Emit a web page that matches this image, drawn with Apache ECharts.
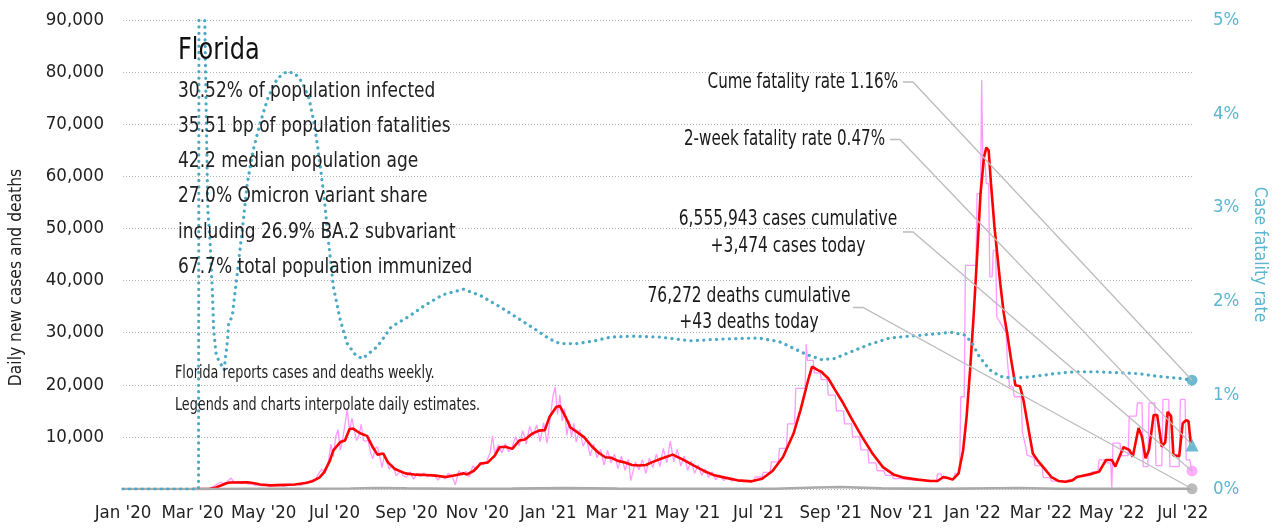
<!DOCTYPE html>
<html><head><meta charset="utf-8">
<script src="https://cdn.jsdelivr.net/npm/echarts@6/dist/echarts.min.js"></script>
<style>html,body{margin:0;padding:0;background:#fff}#c{width:1286px;height:529px}</style>
</head><body><div id="c"></div>
<script>
const FONT = '"Liberation Sans Narrow","DejaVu Sans Condensed","Roboto Condensed",sans-serif';

const xTickDates = ['2020-01-01','2020-03-01','2020-05-01','2020-07-01','2020-09-01','2020-11-01','2021-01-01','2021-03-01','2021-05-01','2021-07-01','2021-09-01','2021-11-01','2022-01-01','2022-03-01','2022-05-01','2022-07-01'];
const xTickLabels = ["Jan '20","Mar '20","May '20","Jul '20","Sep '20","Nov '20","Jan '21","Mar '21","May '21","Jul '21","Sep '21","Nov '21","Jan '22","Mar '22","May '22","Jul '22"];
const xStart = '2020-01-01', xEnd = '2022-07-09';

// 7-day average of new cases
const avgCases = [['2020-03-01',0],['2020-03-15',0],['2020-03-21',300],['2020-03-30',1100],['2020-04-02',1250],['2020-04-17',1280],['2020-04-23',1100],['2020-04-28',850],['2020-05-07',700],['2020-05-19',800],['2020-05-28',850],['2020-06-06',1150],['2020-06-12',1500],['2020-06-18',2200],['2020-06-22',3200],['2020-06-27',5400],['2020-06-30',7400],['2020-07-06',9000],['2020-07-10',9300],['2020-07-14',11500],['2020-07-17',11600],['2020-07-23',10700],['2020-07-29',10200],['2020-08-03',8000],['2020-08-07',6600],['2020-08-12',6800],['2020-08-16',5100],['2020-08-22',3840],['2020-08-31',3000],['2020-09-09',2750],['2020-09-18',2700],['2020-09-26',2560],['2020-10-05',2300],['2020-10-14',2700],['2020-10-20',3000],['2020-10-23',2800],['2020-10-29',3500],['2020-11-04',4900],['2020-11-10',5100],['2020-11-16',6400],['2020-11-20',8000],['2020-11-25',8100],['2020-12-01',7700],['2020-12-07',9300],['2020-12-12',9500],['2020-12-18',10600],['2020-12-24',11200],['2020-12-29',11300],['2021-01-02',13800],['2021-01-08',15800],['2021-01-11',15900],['2021-01-16',13800],['2021-01-20',11800],['2021-01-26',10900],['2021-02-01',9900],['2021-02-07',8300],['2021-02-13',7000],['2021-02-19',6100],['2021-02-24',6000],['2021-03-02',5400],['2021-03-08',5100],['2021-03-14',4600],['2021-03-20',4500],['2021-03-26',4600],['2021-04-01',5200],['2021-04-08',5800],['2021-04-18',6600],['2021-04-27',5630],['2021-05-06',4540],['2021-05-15',3460],['2021-05-24',2620],['2021-06-02',2180],['2021-06-13',1660],['2021-06-25',1470],['2021-07-04',1980],['2021-07-13',3460],['2021-07-22',6140],['2021-07-31',10600],['2021-08-06',15100],['2021-08-10',18600],['2021-08-13',21200],['2021-08-16',23500],['2021-08-21',22800],['2021-08-24',22500],['2021-08-30',21200],['2021-09-04',19300],['2021-09-12',16400],['2021-09-19',13500],['2021-09-28',10000],['2021-10-07',6800],['2021-10-16',4200],['2021-10-25',2800],['2021-11-03',2180],['2021-11-15',1800],['2021-11-26',1540],['2021-12-02',1540],['2021-12-07',2300],['2021-12-11',2100],['2021-12-15',1800],['2021-12-20',2940],['2021-12-24',7400],['2021-12-27',13800],['2021-12-30',22800],['2022-01-02',33000],['2022-01-05',44500],['2022-01-08',56700],['2022-01-11',63700],['2022-01-13',65500],['2022-01-15',65000],['2022-01-17',58600],['2022-01-20',50300],['2022-01-25',39400],['2022-01-28',33700],['2022-01-31',29800],['2022-02-03',25300],['2022-02-07',19900],['2022-02-11',19700],['2022-02-14',17000],['2022-02-19',10600],['2022-02-22',6800],['2022-02-26',5500],['2022-03-04',3900],['2022-03-10',2300],['2022-03-16',1540],['2022-03-22',1400],['2022-03-28',1660],['2022-04-01',2300],['2022-04-09',2700],['2022-04-15',3000],['2022-04-20',3300],['2022-04-26',5570],['2022-05-01',5570],['2022-05-04',4300],['2022-05-11',8000],['2022-05-16',7500],['2022-05-19',6200],['2022-05-24',11700],['2022-05-27',10000],['2022-05-30',5900],['2022-06-02',7500],['2022-06-06',14200],['2022-06-09',14200],['2022-06-13',8100],['2022-06-16',9000],['2022-06-18',14800],['2022-06-21',14000],['2022-06-23',6500],['2022-06-28',6300],['2022-07-01',12600],['2022-07-04',13200],['2022-07-06',13000],['2022-07-08',8600]];

// daily new cases (reported / interpolated)
const dailyCases = [['2020-03-01',0],['2020-03-15',100],['2020-03-19',500],['2020-03-22',900],['2020-03-25',1300],['2020-03-28',1000],['2020-03-31',1500],['2020-04-03',2100],['2020-04-06',1200],['2020-04-09',1400],['2020-04-12',1000],['2020-04-15',1300],['2020-04-18',900],['2020-04-21',1000],['2020-04-24',700],['2020-04-27',900],['2020-04-30',600],['2020-05-03',900],['2020-05-06',500],['2020-05-09',800],['2020-05-12',700],['2020-05-15',900],['2020-05-18',500],['2020-05-21',800],['2020-05-24',900],['2020-05-27',700],['2020-05-30',1000],['2020-06-02',700],['2020-06-05',1300],['2020-06-08',1000],['2020-06-11',1700],['2020-06-14',1500],['2020-06-17',2800],['2020-06-20',3800],['2020-06-23',3000],['2020-06-26',5600],['2020-06-28',8600],['2020-06-30',6200],['2020-07-02',10000],['2020-07-04',11400],['2020-07-06',7400],['2020-07-08',9500],['2020-07-10',12300],['2020-07-12',15300],['2020-07-14',11000],['2020-07-16',13600],['2020-07-18',11400],['2020-07-20',9300],['2020-07-22',10200],['2020-07-24',12400],['2020-07-26',9300],['2020-07-28',9200],['2020-07-30',9400],['2020-08-01',7000],['2020-08-03',5800],['2020-08-05',7800],['2020-08-07',8100],['2020-08-09',6200],['2020-08-11',4100],['2020-08-13',6600],['2020-08-15',5400],['2020-08-17',3800],['2020-08-19',4500],['2020-08-21',4200],['2020-08-23',2600],['2020-08-25',3000],['2020-08-27',3400],['2020-08-29',2500],['2020-09-01',2300],['2020-09-04',3300],['2020-09-07',1900],['2020-09-10',2800],['2020-09-13',2400],['2020-09-16',3100],['2020-09-19',2300],['2020-09-22',2800],['2020-09-25',2700],['2020-09-28',1700],['2020-10-01',2500],['2020-10-04',1900],['2020-10-07',3000],['2020-10-10',2600],['2020-10-13',800],['2020-10-16',3500],['2020-10-19',2600],['2020-10-22',3400],['2020-10-25',2300],['2020-10-28',4400],['2020-10-31',3800],['2020-11-03',5100],['2020-11-06',4600],['2020-11-09',5300],['2020-11-12',7000],['2020-11-14',10200],['2020-11-16',6800],['2020-11-19',8500],['2020-11-22',6900],['2020-11-25',8700],['2020-11-28',7100],['2020-12-01',8200],['2020-12-04',10000],['2020-12-07',8300],['2020-12-10',11200],['2020-12-13',8600],['2020-12-16',12000],['2020-12-19',10200],['2020-12-22',12300],['2020-12-25',9100],['2020-12-28',12700],['2020-12-31',8800],['2021-01-02',12400],['2021-01-05',17800],['2021-01-07',19600],['2021-01-09',14300],['2021-01-11',18000],['2021-01-13',13000],['2021-01-15',15400],['2021-01-17',10300],['2021-01-19',13100],['2021-01-21',10000],['2021-01-23',12600],['2021-01-25',9000],['2021-01-28',11400],['2021-01-31',8200],['2021-02-03',9700],['2021-02-06',6400],['2021-02-09',8600],['2021-02-12',6000],['2021-02-15',7600],['2021-02-18',4600],['2021-02-21',7400],['2021-02-24',5000],['2021-02-27',6700],['2021-03-02',3900],['2021-03-05',6300],['2021-03-08',3600],['2021-03-11',5700],['2021-03-13',1600],['2021-03-17',5200],['2021-03-20',3700],['2021-03-23',5600],['2021-03-26',3000],['2021-03-29',5900],['2021-04-01',4100],['2021-04-04',6700],['2021-04-07',4300],['2021-04-10',7800],['2021-04-13',5000],['2021-04-16',9200],['2021-04-19',5200],['2021-04-22',7600],['2021-04-25',4400],['2021-04-28',6300],['2021-05-01',3600],['2021-05-04',5400],['2021-05-07',3000],['2021-05-10',4600],['2021-05-13',2600],['2021-05-16',3900],['2021-05-19',2200],['2021-05-22',3300],['2021-05-25',1800],['2021-05-28',2700],['2021-06-01',1600],['2021-06-04',2300],['2021-06-08',1500],['2021-06-12',1800],['2021-06-14',1500],['2021-06-20',1500],['2021-06-21',1600],['2021-06-27',1600],['2021-06-28',2300],['2021-07-04',2300],['2021-07-05',3200],['2021-07-11',3200],['2021-07-12',5200],['2021-07-18',5200],['2021-07-19',7800],['2021-07-25',7800],['2021-07-26',12500],['2021-08-01',12500],['2021-08-02',19300],['2021-08-10',19300],['2021-08-11',27800],['2021-08-12',24700],['2021-08-17',24700],['2021-08-18',22300],['2021-08-23',22300],['2021-08-24',21000],['2021-08-29',21000],['2021-08-30',18000],['2021-09-05',18000],['2021-09-06',15000],['2021-09-12',15000],['2021-09-13',12500],['2021-09-19',12500],['2021-09-20',10000],['2021-09-26',10000],['2021-09-27',7500],['2021-10-03',7500],['2021-10-04',5000],['2021-10-10',5000],['2021-10-11',3500],['2021-10-17',3500],['2021-10-18',2600],['2021-10-24',2600],['2021-10-25',2000],['2021-10-31',2000],['2021-11-01',1800],['2021-11-07',1800],['2021-11-08',1700],['2021-11-14',1700],['2021-11-15',1600],['2021-11-21',1600],['2021-11-22',1500],['2021-11-28',1500],['2021-11-29',1400],['2021-12-01',1400],['2021-12-02',2900],['2021-12-05',2900],['2021-12-06',2000],['2021-12-16',2000],['2021-12-17',3000],['2021-12-21',3000],['2021-12-22',17700],['2021-12-25',17700],['2021-12-26',42900],['2022-01-04',42900],['2022-01-05',56700],['2022-01-08',56700],['2022-01-09',78500],['2022-01-10',62500],['2022-01-12',62500],['2022-01-13',58600],['2022-01-15',58600],['2022-01-16',40700],['2022-01-18',40700],['2022-01-19',45800],['2022-01-21',45800],['2022-01-22',33000],['2022-01-30',30000],['2022-01-31',25000],['2022-02-02',19600],['2022-02-05',19600],['2022-02-06',17700],['2022-02-12',17700],['2022-02-13',11000],['2022-02-16',8000],['2022-02-17',6500],['2022-02-23',6000],['2022-02-24',4500],['2022-03-02',4500],['2022-03-03',2200],['2022-03-09',2200],['2022-03-10',1500],['2022-03-16',1500],['2022-03-17',1300],['2022-03-23',1300],['2022-03-24',1700],['2022-03-30',1700],['2022-03-31',2400],['2022-04-06',2400],['2022-04-07',2600],['2022-04-13',2600],['2022-04-14',3300],['2022-04-19',3300],['2022-04-20',5600],['2022-04-26',5600],['2022-04-27',5000],['2022-04-30',5000],['2022-05-01',0],['2022-05-02',8800],['2022-05-08',8800],['2022-05-09',6400],['2022-05-15',6400],['2022-05-16',14000],['2022-05-22',14000],['2022-05-23',16500],['2022-05-27',16500],['2022-05-28',4300],['2022-06-01',4300],['2022-06-02',16500],['2022-06-07',16500],['2022-06-08',4500],['2022-06-13',4500],['2022-06-14',17200],['2022-06-19',17200],['2022-06-20',4300],['2022-06-28',4300],['2022-06-29',17200],['2022-07-03',17200],['2022-07-04',5600],['2022-07-07',5600],['2022-07-09',3474]];

// daily deaths
const dailyDeaths = [['2020-01-01',0],['2020-03-20',0],['2020-04-15',40],['2020-06-01',40],['2020-07-15',110],['2020-08-05',180],['2020-09-01',120],['2020-10-15',60],['2020-12-01',80],['2021-01-15',160],['2021-03-01',80],['2021-05-01',50],['2021-07-15',50],['2021-08-20',300],['2021-09-10',380],['2021-10-15',120],['2021-12-01',30],['2022-01-20',150],['2022-02-10',200],['2022-03-15',60],['2022-05-01',20],['2022-07-09',43]];

// case fatality rate, %
const fatalityRate = [['2020-01-01',0],['2020-03-06',0],['2020-03-07',14],['2020-03-11',5.3],['2020-03-13',3.7],['2020-03-14',2.97],['2020-03-16',2.62],['2020-03-18',2.09],['2020-03-19',1.7],['2020-03-21',1.45],['2020-03-23',1.38],['2020-03-28',1.27],['2020-03-31',1.59],['2020-04-01',1.77],['2020-04-04',1.84],['2020-04-08',2.26],['2020-04-13',2.8],['2020-04-17',3.26],['2020-04-22',3.61],['2020-04-28',3.9],['2020-05-05',4.18],['2020-05-13',4.38],['2020-05-21',4.45],['2020-05-28',4.43],['2020-06-03',4.34],['2020-06-09',4.17],['2020-06-13',3.93],['2020-06-17',3.61],['2020-06-22',3.12],['2020-06-26',2.62],['2020-06-30',2.16],['2020-07-06',1.8],['2020-07-12',1.55],['2020-07-19',1.43],['2020-07-25',1.39],['2020-08-07',1.52],['2020-08-19',1.73],['2020-09-03',1.84],['2020-09-17',1.96],['2020-10-02',2.07],['2020-10-20',2.13],['2020-11-04',2.06],['2020-11-22',1.93],['2020-12-06',1.82],['2020-12-21',1.7],['2021-01-02',1.6],['2021-01-11',1.55],['2021-01-26',1.55],['2021-02-10',1.58],['2021-02-24',1.62],['2021-03-14',1.63],['2021-04-07',1.62],['2021-05-03',1.58],['2021-06-02',1.6],['2021-07-01',1.61],['2021-07-19',1.57],['2021-07-31',1.5],['2021-08-12',1.43],['2021-08-24',1.38],['2021-09-04',1.39],['2021-09-16',1.45],['2021-10-04',1.54],['2021-10-22',1.61],['2021-11-09',1.63],['2021-11-27',1.65],['2021-12-14',1.67],['2021-12-26',1.64],['2022-01-01',1.55],['2022-01-07',1.41],['2022-01-16',1.27],['2022-01-25',1.2],['2022-02-06',1.18],['2022-02-23',1.2],['2022-03-13',1.23],['2022-03-31',1.25],['2022-04-18',1.25],['2022-05-06',1.24],['2022-05-24',1.23],['2022-06-10',1.2],['2022-06-28',1.18],['2022-07-09',1.16]];

const twoWeekRate = 0.47;
const casesToday = 3474, deathsToday = 43;
const stateName = 'Florida';
const stats = ['30.52% of population infected','35.51 bp of population fatalities','42.2 median population age','27.0% Omicron variant share','including 26.9% BA.2 subvariant','67.7% total population immunized'];
const notes = ['Florida reports cases and deaths weekly.','Legends and charts interpolate daily estimates.'];
const annCume = 'Cume fatality rate 1.16%';
const ann2wk = '2-week fatality rate 0.47%';
const annCases = ['6,555,943 cases cumulative','+3,474 cases today'];
const annDeaths = ['76,272 deaths cumulative','+43 deaths today'];

const CYAN = '#4aa9c3', CYAN_L = '#5cb6cf', PINK = '#ff99ff', RED = '#ff0000', GREY = '#aaaaaa';

// dates -> day index since xStart (the x axis is a day-number value axis)
const t0 = echarts.time.parse(xStart).getTime();
const dayOf = d => Math.round((echarts.time.parse(d).getTime() - t0) / 864e5);
const toXY = arr => arr.map(p => [dayOf(p[0]), p[1]]);
const tickDays = xTickDates.map(dayOf);
const lastDay = dayOf(xEnd);

const chart = echarts.init(document.getElementById('c'), null, {renderer: 'canvas'});
chart.setOption({
  animation: false,
  backgroundColor: '#ffffff',
  textStyle: {fontFamily: FONT},
  grid: {left: 122, right: 94, top: 20, bottom: 40, containLabel: false},
  xAxis: {
    type: 'value', min: 0, max: lastDay,
    axisLine: {show: false}, axisTick: {show: false}, splitLine: {show: false},
    axisLabel: {
      customValues: tickDays, color: '#222', fontSize: 18.5, fontFamily: FONT, margin: 15,
      showMinLabel: true, showMaxLabel: true,
      formatter: v => { const i = tickDays.indexOf(v); return i >= 0 ? xTickLabels[i] : ''; }
    }
  },
  yAxis: [{
    type: 'value', min: 0, max: 90000, interval: 10000,
    name: 'Daily new cases and deaths', nameLocation: 'middle', nameGap: 98,
    nameTextStyle: {color: '#222', fontSize: 17.3, fontFamily: FONT, padding: [0, 46, 0, 0]},
    axisLine: {show: false}, axisTick: {show: false},
    axisLabel: {color: '#222', fontSize: 18.5, fontFamily: FONT, margin: 19,
      formatter: v => v === 0 ? '' : v.toLocaleString('en-US')},
    splitLine: {lineStyle: {color: '#b5b5b5', type: [1, 2], width: 1}}
  }, {
    type: 'value', min: 0, max: 5, interval: 1, position: 'right',
    name: 'Case fatality rate', nameLocation: 'middle', nameGap: 51, nameRotate: -90,
    nameTextStyle: {color: CYAN_L, fontSize: 17.5, fontFamily: FONT},
    axisLine: {show: false}, axisTick: {show: false}, splitLine: {show: false},
    axisLabel: {color: CYAN_L, fontSize: 18.5, fontFamily: FONT, margin: 21, formatter: v => v + '%'}
  }],
  series: [
    {name: 'Daily cases', type: 'line', data: toXY(dailyCases), showSymbol: false, symbol: 'none',
     lineStyle: {color: PINK, width: 1.3}, z: 2},
    {name: '7-day average', type: 'line', data: toXY(avgCases), showSymbol: false, symbol: 'none',
     lineStyle: {color: RED, width: 2.6}, z: 3},
    {name: 'Daily deaths', type: 'line', data: toXY(dailyDeaths), showSymbol: false, symbol: 'none',
     lineStyle: {color: GREY, width: 2.6}, z: 3},
    {name: 'Case fatality rate', type: 'line', yAxisIndex: 1, data: toXY(fatalityRate), showSymbol: false, symbol: 'none',
     lineStyle: {color: CYAN, width: 3.2, type: [0.1, 6.3], cap: 'round'}, z: 4},
    {type: 'scatter', yAxisIndex: 1, data: [[lastDay, fatalityRate[fatalityRate.length - 1][1]]], symbol: 'circle', symbolSize: 11,
     itemStyle: {color: CYAN}, z: 6, silent: true},
    {type: 'scatter', yAxisIndex: 1, data: [[lastDay, twoWeekRate]], symbol: 'triangle', symbolSize: 13,
     itemStyle: {color: CYAN}, z: 6, silent: true},
    {type: 'scatter', data: [[lastDay, casesToday]], symbol: 'circle', symbolSize: 11,
     itemStyle: {color: PINK}, z: 6, silent: true},
    {type: 'scatter', data: [[lastDay, deathsToday]], symbol: 'circle', symbolSize: 11,
     itemStyle: {color: GREY}, z: 6, silent: true}
  ]
});

function px(seriesIndex, pt) { return chart.convertToPixel({seriesIndex: seriesIndex}, pt); }
const pCume = px(4, [lastDay, fatalityRate[fatalityRate.length - 1][1]]);
const p2wk = px(5, [lastDay, twoWeekRate]);
const pCases = px(6, [lastDay, casesToday]);
const pDeaths = px(7, [lastDay, deathsToday]);

function txt(text, x, y, size, align, color, sx) {
  return {type: 'text', z: 20, silent: true, x: x, y: y, scaleX: sx || 0.86,
    style: {text: text, x: 0, y: 0, fill: color || '#1a1a1a', font: size + 'px ' + FONT, align: align || 'left', verticalAlign: 'middle'}};
}
function leader(x0, y0, p) {
  return {type: 'polyline', z: 15, silent: true,
    shape: {points: [[x0, y0], [x0 + 10, y0], p]},
    style: {stroke: '#bdbdbd', lineWidth: 1.3, fill: null}};
}
const g = [];
g.push(txt(stateName, 178, 51, 31, 'left', '#111'));
stats.forEach((s, i) => g.push(txt(s, 178, 91 + i * 35.2, 22, 'left', '#222')));
g.push(txt(notes[0], 175, 374, 17, 'left', '#222', 0.835));
g.push(txt(notes[1], 175, 406, 17, 'left', '#222', 0.835));
g.push(txt(annCume, 898, 83, 20.5, 'right', null, 0.82));
g.push(txt(ann2wk, 885, 140, 20.5, 'right', null, 0.82));
g.push(txt(annCases[0], 788, 220, 20.5, 'center', null, 0.84));
g.push(txt(annCases[1], 788, 247, 20.5, 'center', null, 0.84));
g.push(txt(annDeaths[0], 749, 297, 20.5, 'center', null, 0.84));
g.push(txt(annDeaths[1], 749, 323, 20.5, 'center', null, 0.84));
g.push(leader(903, 82, pCume));
g.push(leader(890, 139.5, p2wk));
g.push(leader(903, 232, pCases));
g.push(leader(853, 307.5, pDeaths));
chart.setOption({graphic: g});
</script></body></html>
